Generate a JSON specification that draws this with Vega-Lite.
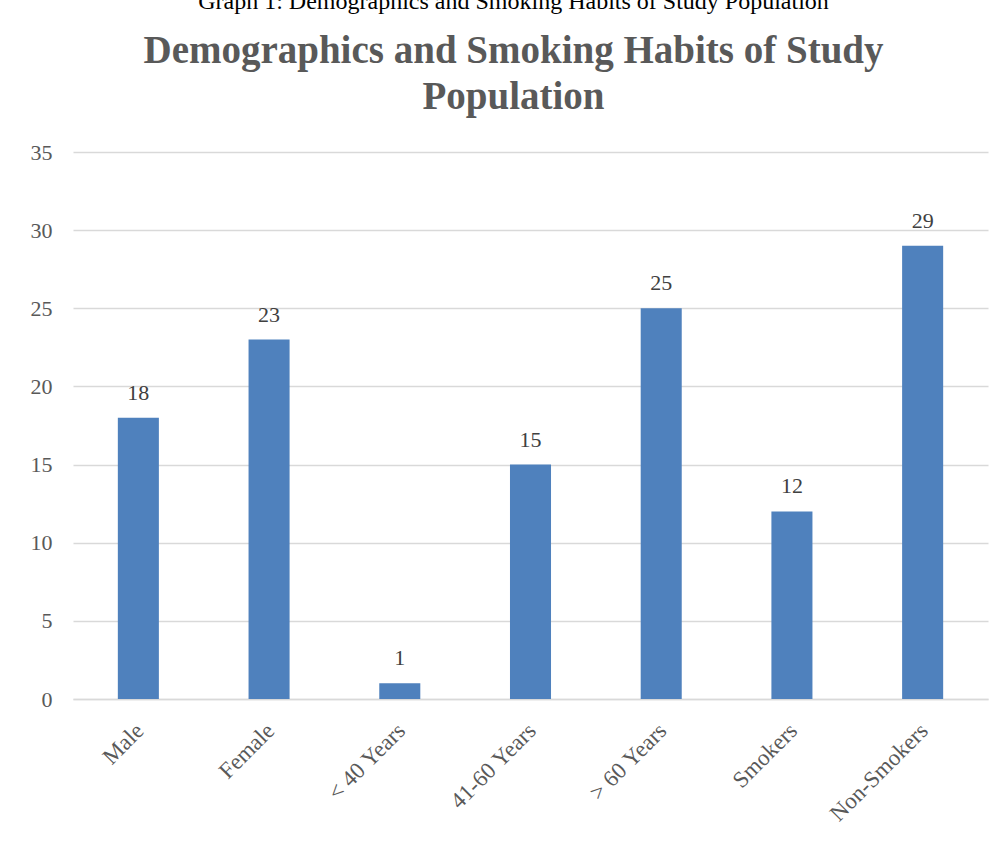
{
  "$schema": "https://vega.github.io/schema/vega-lite/v6.json",
  "width": 915,
  "height": 547,
  "autosize": {"type": "none"},
  "padding": {"left": 73, "top": 152, "right": 15, "bottom": 144},
  "background": "white",
  "title": {
    "text": "Graph 1: Demographics and Smoking Habits of Study Population",
    "subtitle": ["Demographics and Smoking Habits of Study", "Population"],
    "anchor": "middle",
    "orient": "top",
    "dx": -17,
    "font": "Liberation Serif",
    "fontSize": 24,
    "fontWeight": "normal",
    "color": "#000000",
    "subtitleFont": "Liberation Serif",
    "subtitleFontSize": 39,
    "subtitleFontWeight": "bold",
    "subtitleColor": "#595959",
    "subtitleLineHeight": 46,
    "subtitlePadding": 18,
    "offset": 24
  },
  "data": {
    "values": [
      {"category": "Male", "count": 18},
      {"category": "Female", "count": 23},
      {"category": "< 40 Years", "count": 1},
      {"category": "41-60 Years", "count": 15},
      {"category": "> 60 Years", "count": 25},
      {"category": "Smokers", "count": 12},
      {"category": "Non-Smokers", "count": 29}
    ]
  },
  "encoding": {
    "x": {
      "field": "category",
      "type": "nominal",
      "sort": null,
      "scale": {"paddingInner": 0.686, "paddingOuter": 0.343},
      "axis": {
        "title": null,
        "labelAngle": -45,
        "labelFont": "Liberation Serif",
        "labelFontSize": 23,
        "labelColor": "#595959",
        "labelPadding": 20,
        "labelOffset": -6,
        "ticks": false,
        "domainColor": "#D9D9D9",
        "domainWidth": 1.5
      }
    },
    "y": {
      "field": "count",
      "type": "quantitative",
      "scale": {"domain": [0, 35]},
      "axis": {
        "title": null,
        "values": [0, 5, 10, 15, 20, 25, 30, 35],
        "labelFont": "Liberation Serif",
        "labelFontSize": 22,
        "labelColor": "#595959",
        "labelPadding": 21,
        "ticks": false,
        "domain": false,
        "gridColor": "#D9D9D9",
        "gridWidth": 1.5
      }
    }
  },
  "layer": [
    {"mark": {"type": "bar", "color": "#4F81BD"}},
    {
      "mark": {
        "type": "text",
        "baseline": "bottom",
        "dy": -13,
        "font": "Liberation Serif",
        "fontSize": 22,
        "color": "#404040"
      },
      "encoding": {"text": {"field": "count", "type": "quantitative"}}
    }
  ],
  "config": {"view": {"stroke": null}}
}
